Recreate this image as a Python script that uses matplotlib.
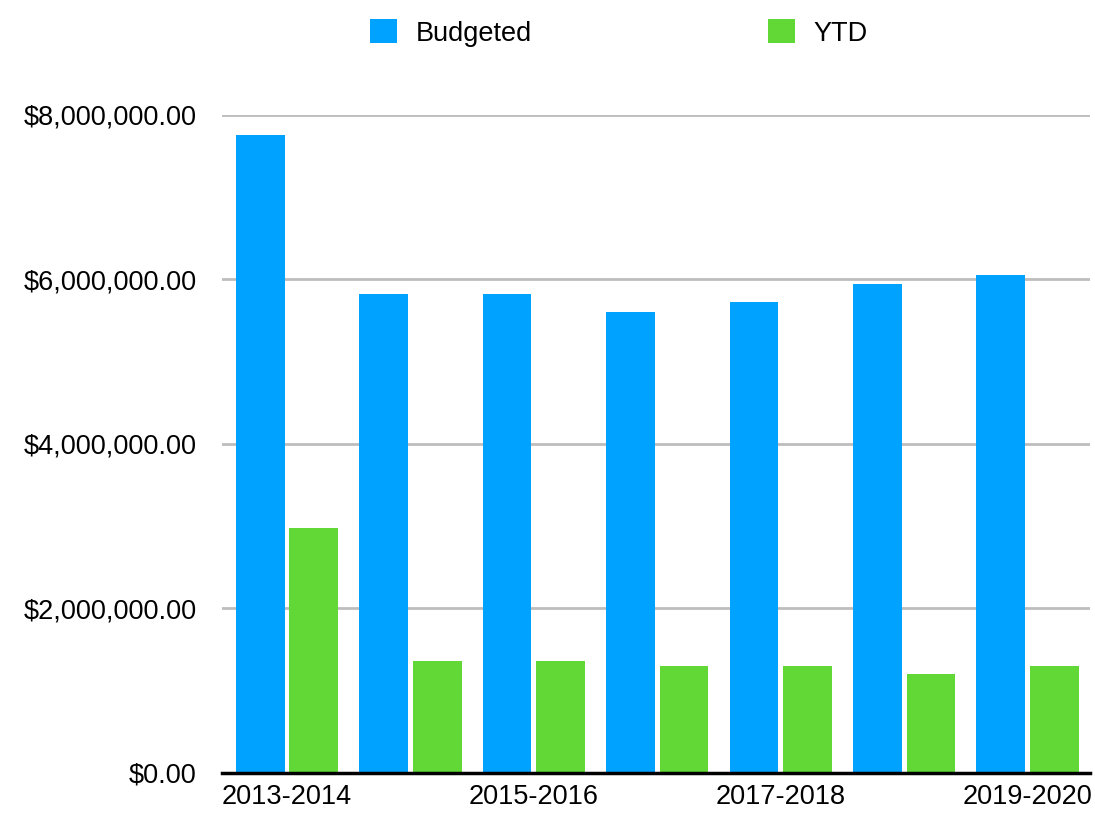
import numpy as np
import matplotlib.pyplot as plt
from matplotlib.ticker import FuncFormatter

# Data
years = ["2013-2014", "2014-2015", "2015-2016", "2016-2017",
         "2017-2018", "2018-2019", "2019-2020"]
budgeted = [7.76e6, 5.82e6, 5.82e6, 5.60e6, 5.72e6, 5.95e6, 6.05e6]
ytd = [2.98e6, 1.36e6, 1.36e6, 1.30e6, 1.30e6, 1.20e6, 1.30e6]
shown_labels = ["2013-2014", "2015-2016", "2017-2018", "2019-2020"]

blue = "#00A2FF"
green = "#61D836"

plt.rcParams['font.family'] = ['Liberation Sans', 'DejaVu Sans']

fig = plt.figure(figsize=(10.95, 8.23), dpi=100)
ax = fig.add_axes([0.2027, 0.0608, 0.7927, 0.7995])

x = np.arange(len(years))
w = 0.395
off = 0.217
ax.bar(x - off, budgeted, w, color=blue, label="Budgeted", zorder=3)
ax.bar(x + off, ytd, w, color=green, label="YTD", zorder=3)

ax.set_xlim(-0.527, len(years) - 0.494)
ax.set_ylim(0, 8e6)
ax.set_yticks(np.arange(0, 8.1e6, 2e6))
ax.yaxis.set_major_formatter(FuncFormatter(lambda v, p: f"${v:,.2f}"))
ax.grid(axis="y", color="#BDBDBD", linewidth=2, zorder=0)
ax.set_axisbelow(True)

ticks = [years.index(s) for s in shown_labels]
ax.set_xticks(ticks)
ax.set_xticklabels(shown_labels)

for s in ["top", "right", "left"]:
    ax.spines[s].set_visible(False)
ax.spines["bottom"].set_color("black")
ax.spines["bottom"].set_linewidth(2.5)
ax.spines["bottom"].set_zorder(4)
ax.tick_params(axis="both", length=0, labelsize=19.5)
ax.tick_params(axis="y", pad=18)
ax.tick_params(axis="x", pad=8)

fig.legend(loc="center", bbox_to_anchor=(0.565, 0.96), ncol=2, frameon=False,
           fontsize=19.5, handlelength=1.0, handleheight=1.0,
           handletextpad=0.7, columnspacing=8.7)

fig.savefig("out.png", dpi=100)
